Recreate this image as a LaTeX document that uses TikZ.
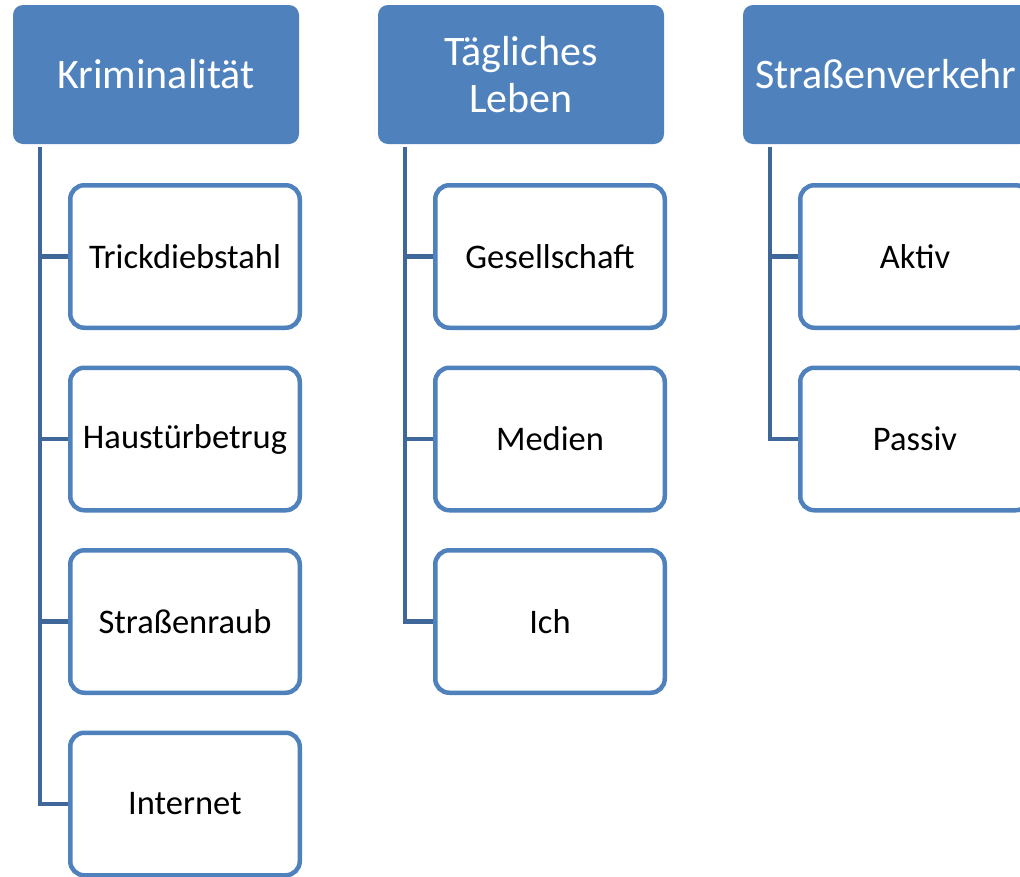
\documentclass[tikz,border=0pt]{standalone}
\usepackage{fontspec}
\setmainfont{Carlito}
\usetikzlibrary{positioning}

\definecolor{hdrblue}{RGB}{79,129,189}
\definecolor{linkblue}{RGB}{64,103,153}

\tikzset{
	head/.style={fill=hdrblue, rounded corners=10pt, minimum width=286pt, minimum height=139pt,
		inner sep=0pt, text=white, align=center, font=\fontsize{42}{47}\selectfont},
	item/.style={draw=hdrblue, line width=4.5pt, fill=white, rounded corners=14pt,
		minimum width=229.5pt, minimum height=142.5pt, inner sep=0pt, font=\fontsize{34.5}{40}\selectfont},
	branch/.style={draw=linkblue, line width=4.5pt}
}

\begin{document}
\begin{tikzpicture}[x=1pt,y=-1pt]
		\useasboundingbox (0,0) rectangle (1020,876);
		\clip (0,0) rectangle (1020,876);
		% headers
		\node[head] (krim) at (156,74.5) {Kriminalität};
		\node[head] (leben) at (521,74.5) {Tägliches\\Leben};
		\node[head] (verk) at (886,74.5) {Straßenverkehr};
		% children
		\foreach \name/\txt [count=\i] in {krim1/Trickdiebstahl,krim2/Haustürbetrug,krim3/Straßenraub,krim4/Internet}
		\node[item] (\name) at (185,256.5+\i*182.5-182.5) {\txt};
		\foreach \name/\txt [count=\i] in {leben1/Gesellschaft,leben2/Medien,leben3/Ich}
		\node[item] (\name) at (550,256.5+\i*182.5-182.5) {\txt};
		\foreach \name/\txt [count=\i] in {verk1/Aktiv,verk2/Passiv}
		\node[item] (\name) at (915,256.5+\i*182.5-182.5) {\txt};
		% branches
		\foreach \p/\c in {krim/krim1,krim/krim2,krim/krim3,krim/krim4,leben/leben1,leben/leben2,leben/leben3,verk/verk1,verk/verk2}
		\draw[branch] ([xshift=27pt,yshift=-3pt]\p.south west) |- (\c.west);
	\end{tikzpicture}
\end{document}
